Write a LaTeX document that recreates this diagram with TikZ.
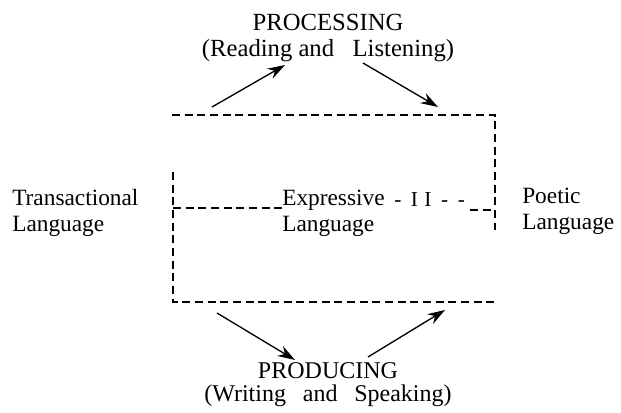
\documentclass[tikz,border=0pt]{standalone}
\usepackage{fontspec}
\setmainfont{Liberation Serif}
\usetikzlibrary{arrows.meta}

\begin{document}
\begin{tikzpicture}[x=0.75pt, y=-0.75pt, font=\fontsize{17.5}{19.5}\selectfont,
  main node/.style={inner sep=0pt, anchor=base},
  frame line/.style={line width=2.2pt, dash pattern=on 6pt off 3.5pt},
  flow/.style={-{Stealth[length=13pt,width=8.5pt]}, line width=1pt}]
\useasboundingbox (0,0) rectangle (621,413);

\node[main node, align=center, font=\fontsize{18.5}{19.5}\selectfont] (processing) at (328,57)
  {PROCESSING\\(Reading and\hspace{0.5em} Listening)};
\node[main node, align=center, font=\fontsize{18}{17}\selectfont] (producing) at (328,401)
  {PRODUCING\\(Writing\hspace{0.45em} and\hspace{0.45em} Speaking)};
\node[main node, align=left, anchor=base west] (transactional) at (12,232)  {Transactional\\Language};
\node[main node, align=left, anchor=base west] (expressive)    at (282,232) {Expressive\\Language};
\node[main node, align=left, anchor=base west] (poetic)        at (522,230) {Poetic\\Language};
\node[main node, anchor=base west, font=\fontsize{16}{18}\selectfont] (ii) at (394,207)
  {-\hspace{0.45em}I\hspace{0.3em}I\hspace{0.45em}-\hspace{0.45em}-};

% frame
\coordinate (tl)   at (172,115);
\coordinate (tr)   at (495,115);
\coordinate (rm)   at (495,230);
\coordinate (lt)   at (173,172);
\coordinate (bl)   at (173,302);
\coordinate (br)   at (495,302);
\coordinate (midl) at (173,208);
\coordinate (midr) at (495,210);
\coordinate (iie)  at (470,210);

\draw[frame line] (tl) -- (tr) -- (rm);
\draw[frame line] (lt) -- (bl) -- (br);
\draw[frame line] (midl) -- (midl -| expressive.west);
\draw[frame line] (iie) -- (midr);

% arrows
\coordinate (pin)  at (212,107);
\coordinate (pup)  at (285,65);
\coordinate (pdn)  at (363,63);
\coordinate (pout) at (438,107);
\coordinate (din)  at (217,313);
\coordinate (ddn)  at (295,360);
\coordinate (dup)  at (368,357);
\coordinate (dout) at (445,310);

\draw[flow] (pin) -- (pup);
\draw[flow] (pdn) -- (pout);
\draw[flow] (din) -- (ddn);
\draw[flow] (dup) -- (dout);
\end{tikzpicture}
\end{document}
